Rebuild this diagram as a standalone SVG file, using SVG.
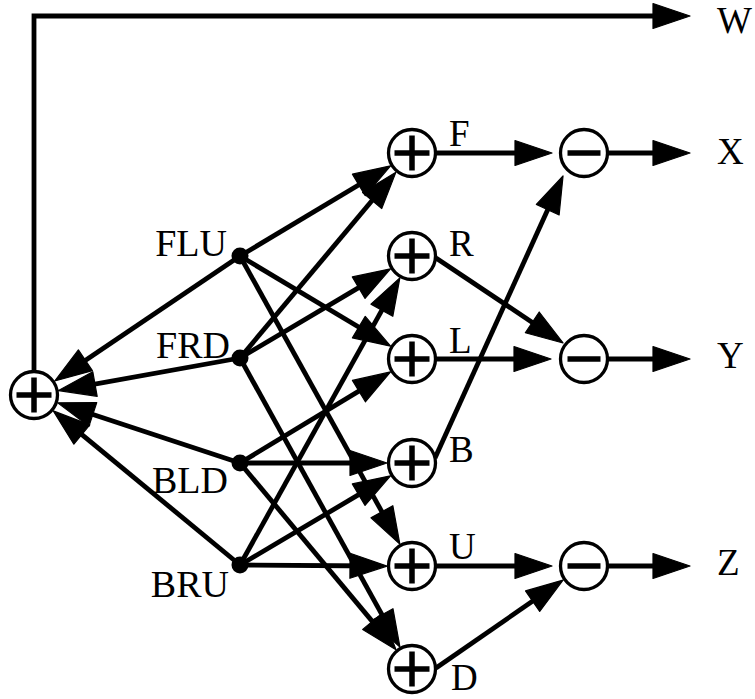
<svg xmlns="http://www.w3.org/2000/svg" width="755" height="699" viewBox="0 0 755 699">
<defs>
<marker id="ah" markerUnits="userSpaceOnUse" markerWidth="42" markerHeight="28" refX="27" refY="12.5" orient="auto" overflow="visible">
<path d="M0,0 L37,12.5 L0,25 Z" fill="#000" stroke="#000" stroke-width="1.2" stroke-linejoin="round"/>
</marker>
</defs>
<style>
.e{fill:none;stroke:#000;stroke-width:4.8;marker-end:url(#ah)}
.c{fill:#fff;stroke:#000;stroke-width:3.3}
.s{stroke:#000;stroke-width:5.5}
.d{fill:#000}
text{font-family:"Liberation Serif","Times New Roman",serif;font-size:37px;fill:#000}
.lb{font-size:38px;text-anchor:end}
</style>
<rect width="755" height="699" fill="#fff"/>
<g id="connectors">
<path class="e" d="M34,371 V16 H680" stroke-linejoin="miter"/>
<line class="e" x1="240" y1="256" x2="63" y2="375.4"/>
<line class="e" x1="240" y1="358" x2="68.4" y2="388.8"/>
<line class="e" x1="240" y1="463" x2="67.2" y2="406"/>
<line class="e" x1="240" y1="565" x2="61" y2="417.3"/>
<line class="e" x1="240" y1="256" x2="382" y2="171"/>
<line class="e" x1="240" y1="256" x2="382" y2="341"/>
<line class="e" x1="240" y1="256" x2="395" y2="535.4"/>
<line class="e" x1="240" y1="358" x2="389.5" y2="179.8"/>
<line class="e" x1="240" y1="358" x2="381.9" y2="273.9"/>
<line class="e" x1="240" y1="358" x2="395.1" y2="638.4"/>
<line class="e" x1="240" y1="463" x2="382" y2="377.1"/>
<line class="e" x1="240" y1="463" x2="377" y2="463"/>
<line class="e" x1="240" y1="463" x2="389.6" y2="642.1"/>
<line class="e" x1="240" y1="565" x2="395" y2="286.6"/>
<line class="e" x1="240" y1="565" x2="381.9" y2="480.9"/>
<line class="e" x1="240" y1="565" x2="377" y2="566"/>
<line class="e" x1="436" y1="153" x2="542" y2="153"/>
<line class="e" x1="435" y1="458" x2="558.9" y2="185.1"/>
<line class="e" x1="436" y1="258" x2="554.7" y2="337.4"/>
<line class="e" x1="436" y1="359" x2="541" y2="359"/>
<line class="e" x1="436" y1="566" x2="542" y2="566"/>
<line class="e" x1="436" y1="668" x2="554.8" y2="585.8"/>
<line class="e" x1="608" y1="153" x2="680" y2="153"/>
<line class="e" x1="608" y1="359" x2="680" y2="359"/>
<line class="e" x1="608" y1="566" x2="680" y2="566"/>
</g>
<g id="sum">
<circle class="c" cx="34" cy="395" r="23.5"/>
<path class="s" d="M16.5,395 H51.5 M34,377.5 V412.5"/>
</g>
<g id="FLU"><circle class="d" cx="240" cy="256" r="8.5"/><text class="lb" x="227" y="256">FLU</text></g>
<g id="FRD"><circle class="d" cx="240" cy="358" r="8.5"/><text class="lb" x="230" y="358">FRD</text></g>
<g id="BLD"><circle class="d" cx="240" cy="463" r="8.5"/><text class="lb" x="228" y="493">BLD</text></g>
<g id="BRU"><circle class="d" cx="240" cy="565" r="8.5"/><text class="lb" x="229" y="597">BRU</text></g>
<g id="F"><circle class="c" cx="412" cy="153" r="23.5"/><path class="s" d="M394.5,153 H429.5 M412,135.5 V170.5"/><text x="449" y="146">F</text></g>
<g id="R"><circle class="c" cx="412" cy="256" r="23.5"/><path class="s" d="M394.5,256 H429.5 M412,238.5 V273.5"/><text x="449" y="256">R</text></g>
<g id="L"><circle class="c" cx="412" cy="359" r="23.5"/><path class="s" d="M394.5,359 H429.5 M412,341.5 V376.5"/><text x="449" y="353">L</text></g>
<g id="B"><circle class="c" cx="412" cy="463" r="23.5"/><path class="s" d="M394.5,463 H429.5 M412,445.5 V480.5"/><text x="449" y="462">B</text></g>
<g id="U"><circle class="c" cx="412" cy="566" r="23.5"/><path class="s" d="M394.5,566 H429.5 M412,548.5 V583.5"/><text x="449" y="559">U</text></g>
<g id="D"><circle class="c" cx="412" cy="669" r="23.5"/><path class="s" d="M394.5,669 H429.5 M412,651.5 V686.5"/><text x="451" y="690">D</text></g>
<g id="minusX"><circle class="c" cx="584" cy="153" r="23.5"/><path class="s" d="M567.5,153 H600.5"/></g>
<g id="minusY"><circle class="c" cx="584" cy="359" r="23.5"/><path class="s" d="M567.5,359 H600.5"/></g>
<g id="minusZ"><circle class="c" cx="584" cy="566" r="23.5"/><path class="s" d="M567.5,566 H600.5"/></g>
<g id="W"><text x="717" y="33">W</text></g>
<g id="X"><text x="717" y="164">X</text></g>
<g id="Y"><text x="717" y="368">Y</text></g>
<g id="Z"><text x="717" y="575">Z</text></g>
</svg>
